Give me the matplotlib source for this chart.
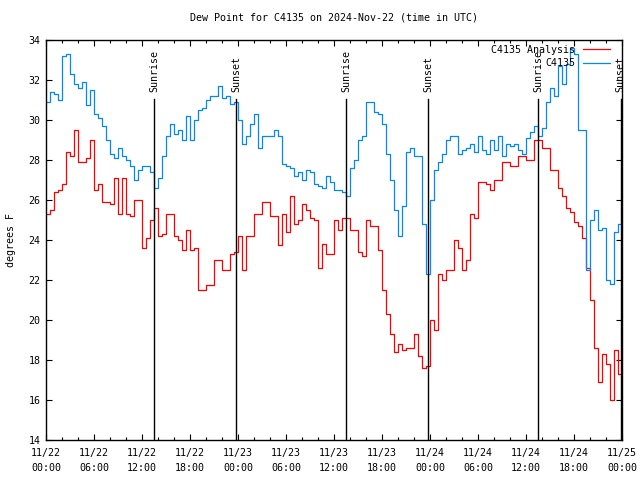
import numpy as np
import matplotlib
matplotlib.use('Agg')
import matplotlib.pyplot as plt

plt.rcParams['font.family'] = 'DejaVu Sans Mono'
plt.rcParams['font.size'] = 7.2

# ---- data (hours since 11/22 00:00 UTC, every 30 min) ----
hours = np.arange(0, 72.5, 0.5)

analysis = [
    25.3, 25.5, 26.4, 26.5, 26.8, 28.4, 28.2, 29.5, 27.9, 27.9, 28.1, 29.0, 26.5,
    26.8, 25.9, 25.9, 25.8, 27.1, 25.3, 27.1, 25.3, 25.2, 26.0, 26.0, 23.6,
    24.1, 25.0, 25.6, 24.2, 24.3, 25.3, 25.3, 24.2, 24.0, 23.5, 24.5, 23.5,
    23.6, 21.5, 21.5, 21.75, 21.75, 23.0, 23.0, 22.5, 22.5, 23.3, 23.4, 24.2,
    22.5, 24.2, 24.2, 25.3, 25.3, 25.9, 25.9, 25.2, 25.2, 23.75, 25.3, 24.4,
    26.2, 24.8, 25.0, 25.8, 25.5, 25.1, 25.0, 22.6, 23.8, 23.3, 23.3, 25.0,
    24.5, 25.1, 25.1, 24.5, 24.5, 23.4, 23.2, 25.0, 24.7, 24.7, 23.5, 21.5,
    20.3, 19.3, 18.4, 18.8, 18.5, 18.6, 18.6, 19.3, 18.2, 17.6, 17.7, 20.0,
    19.5, 22.3, 22.0, 22.5, 22.5, 24.0, 23.6, 22.5, 23.0, 25.3, 25.1, 26.9,
    26.9, 26.8, 26.5, 27.0, 27.0, 27.9, 27.9, 27.7, 27.7, 28.2, 28.2, 28.0,
    28.0, 29.0, 29.0, 28.6, 28.6, 27.5, 27.5, 26.6, 26.2, 25.6, 25.4, 24.9,
    24.7, 24.1, 22.6, 21.0, 18.6, 16.9, 18.3, 17.8, 16.0, 18.5, 17.3, 19.9,
]

station = [
    30.9, 31.4, 31.3, 31.0, 33.2, 33.3, 32.3, 31.8, 31.6, 31.9, 30.75, 31.5, 30.3,
    30.1, 29.7, 29.0, 28.3, 28.1, 28.6, 28.2, 28.0, 27.7, 27.0, 27.5, 27.7,
    27.7, 27.4, 26.6, 27.1, 28.2, 29.2, 29.8, 29.3, 29.5, 29.0, 30.2, 29.0,
    30.0, 30.5, 30.6, 31.0, 31.2, 31.2, 31.7, 31.1, 31.2, 30.8, 30.9, 30.0,
    28.8, 29.2, 29.8, 30.3, 28.6, 29.2, 29.2, 29.2, 29.5, 29.2, 27.8, 27.7,
    27.6, 27.2, 27.4, 27.0, 27.5, 27.4, 26.8, 26.7, 26.6, 27.2, 26.9, 26.5,
    26.5, 26.4, 26.2, 27.6, 28.0, 29.0, 29.2, 30.9, 30.9, 30.4, 30.3, 29.8,
    28.3, 27.0, 25.5, 24.2, 25.7, 28.4, 28.6, 28.2, 28.2, 24.8, 22.3, 26.0,
    27.5, 27.9, 28.3, 29.0, 29.2, 29.2, 28.3, 28.5, 28.6, 28.8, 28.4, 29.2,
    28.5, 28.3, 29.0, 28.5, 29.2, 28.2, 28.8, 28.7, 28.8, 28.5, 28.3, 29.1,
    29.4, 29.7, 29.2, 29.6, 30.9, 31.6, 31.2, 32.7, 31.8, 32.8, 33.6, 33.3,
    29.5, 29.5, 22.5, 25.0, 25.5, 24.5, 24.6, 22.0, 21.8, 24.4, 24.8, 24.2,
]

sun_hours = [13.5, 23.75, 37.55, 47.75, 61.55, 71.85]
sun_names = ['Sunrise', 'Sunset', 'Sunrise', 'Sunset', 'Sunrise', 'Sunset']

tick_hours = [0, 6, 12, 18, 24, 30, 36, 42, 48, 54, 60, 66, 72]
tick_labels = ['11/22\n00:00', '11/22\n06:00', '11/22\n12:00', '11/22\n18:00',
               '11/23\n00:00', '11/23\n06:00', '11/23\n12:00', '11/23\n18:00',
               '11/24\n00:00', '11/24\n06:00', '11/24\n12:00', '11/24\n18:00',
               '11/25\n00:00']

# ---- plot ----
fig = plt.figure(figsize=(6.4, 4.8), dpi=100)
ax = fig.add_axes([46 / 640, 40 / 480, 576 / 640, 400 / 480])

ax.plot(hours, analysis, color='#ff0000', lw=0.9, drawstyle='steps-post', label='C4135 Analysis')
ax.plot(hours, station, color='#0088ff', lw=0.9, drawstyle='steps-post', label='C4135')

for h, name in zip(sun_hours, sun_names):
    ax.plot([h, h], [14, 31.05], color='black', lw=1.0)
    ax.text(h, 31.4, name, rotation=90, ha='center', va='bottom', fontsize=7.2)

ax.set_xlim(0, 72)
ax.set_ylim(14, 34)
ax.set_xticks(tick_hours)
ax.set_xticklabels(tick_labels, linespacing=1.6, fontsize=7.2)
ax.set_xticks(np.arange(0, 73, 2), minor=True)
ax.set_yticks(np.arange(14, 35, 2))
ax.tick_params(which='both', direction='in', top=True, right=True, width=0.8, labelsize=7.2)
ax.tick_params(which='major', length=4)
ax.tick_params(which='minor', length=2)
ax.tick_params(axis='x', pad=6)
ax.tick_params(axis='y', pad=4)
for s in ax.spines.values():
    s.set_linewidth(1.0)

ax.set_ylabel('degrees F', labelpad=9, fontsize=7.2)
ax.set_title('Dew Point for C4135 on 2024-Nov-22 (time in UTC)', pad=14, fontsize=7.2)

ax.legend(loc='upper right', bbox_to_anchor=(0.979, 0.988), frameon=False,
          markerfirst=False, borderpad=0, handlelength=2.7, handletextpad=0.8,
          labelspacing=0.35, borderaxespad=0, fontsize=7.2)

fig.savefig('out.png', dpi=100)
